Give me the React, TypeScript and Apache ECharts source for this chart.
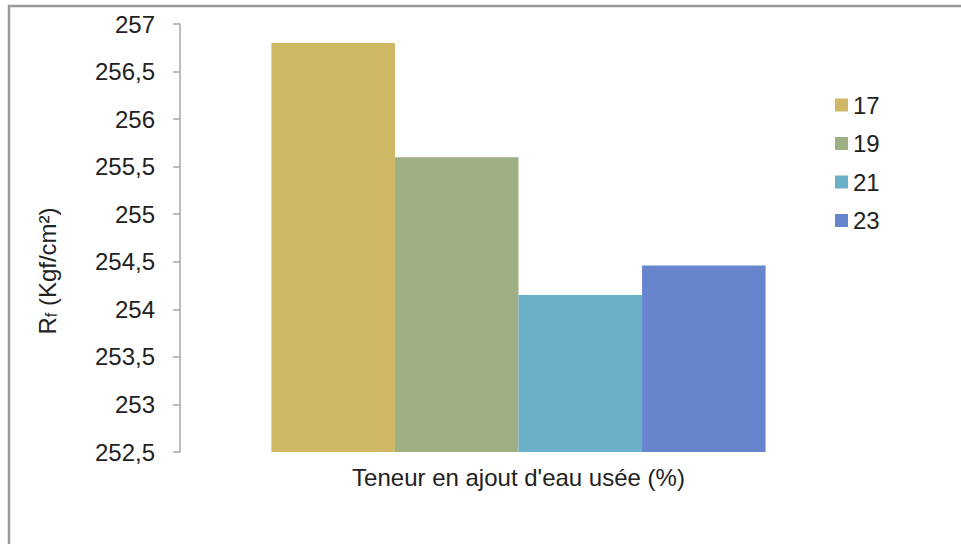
import React, { useEffect, useRef } from "react";
import * as echarts from "echarts";

const categories = [""];
const seriesNames = ["17", "19", "21", "23"];
const seriesValues = [256.8, 255.6, 254.15, 254.46];
const seriesColors = ["#CEB866", "#9EAF83", "#6BB0C9", "#6685CD"];
const yMin = 252.5;
const yMax = 257;
const yInterval = 0.5;
const xTitle = "Teneur en ajout d'eau usée (%)";
const yTitle = "R{s|f} (Kgf/cm²)";

const FONT = "'Liberation Sans', Arial, sans-serif";

export default function App() {
  const ref = useRef<HTMLDivElement>(null);
  useEffect(() => {
    document.body.style.margin = "0";
    const chart = echarts.init(ref.current!, undefined, { renderer: "svg" });
    chart.setOption({
      animation: false,
      backgroundColor: "#ffffff",
      textStyle: { fontFamily: FONT },
      grid: { left: 180, right: 104, top: 24, bottom: 92, containLabel: false },
      legend: {
        orient: "vertical",
        left: 830,
        top: 88,
        itemWidth: 13,
        itemHeight: 13,
        itemGap: 14.5,
        icon: "rect",
        data: seriesNames,
        textStyle: {
          fontFamily: FONT,
          fontSize: 24,
          color: "#222",
          lineHeight: 24,
        },
      },
      xAxis: {
        type: "category",
        data: categories,
        axisLine: { show: false },
        axisTick: { show: false },
        axisLabel: { show: false },
        name: xTitle,
        nameLocation: "middle",
        nameGap: 13,
        nameTextStyle: { fontFamily: FONT, fontSize: 24, color: "#222" },
      },
      yAxis: {
        type: "value",
        min: yMin,
        max: yMax,
        interval: yInterval,
        splitLine: { show: false },
        axisLine: { show: true, lineStyle: { color: "#a6a6a6", width: 1.5 } },
        axisTick: { show: true, length: 7, lineStyle: { color: "#a6a6a6", width: 1.5 } },
        axisLabel: {
          margin: 25,
          fontFamily: FONT,
          fontSize: 24,
          color: "#222",
          formatter: (v: number) => String(v).replace(".", ","),
        },
      },
      series: seriesNames.map((name, i) => ({
        name,
        type: "bar",
        data: [seriesValues[i]],
        barGap: "0%",
        barCategoryGap: "27%",
        itemStyle: { color: seriesColors[i] },
      })),
      graphic: [
        {
          type: "rect",
          shape: { x: 9, y: 6, width: 1000, height: 600 },
          style: { fill: "none", stroke: "#9a9a9a", lineWidth: 2.5 },
          silent: true,
        },
        {
          type: "text",
          x: 47,
          y: 271,
          rotation: Math.PI / 2,
          style: {
            text: yTitle,
            fontFamily: FONT,
            fontSize: 24,
            fill: "#222",
            align: "center",
            verticalAlign: "middle",
            rich: {
              s: { fontFamily: FONT, fontSize: 16, fill: "#222", verticalAlign: "bottom", padding: [9, 0, 0, 0] },
            },
          },
        },
      ],
    });
    return () => chart.dispose();
  }, []);
  return (
    <div
      ref={ref}
      style={{ position: "fixed", left: 0, top: 0, width: 961, height: 544 }}
    />
  );
}
